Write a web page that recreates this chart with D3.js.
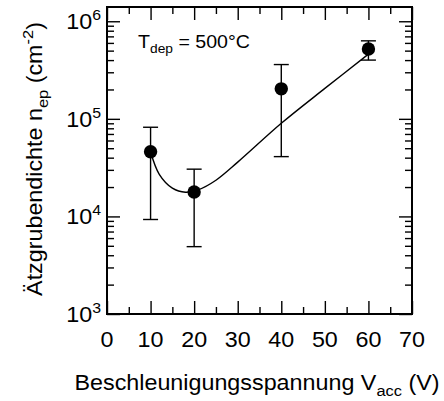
<!DOCTYPE html>
<html>
<head>
<meta charset="utf-8">
<script src="https://cdn.jsdelivr.net/npm/d3@7"></script>
<style>
  body { margin: 0; background: #fff; }
  text { font-family: "Liberation Sans", Arial, sans-serif; fill: #000; }
</style>
</head>
<body>
<svg id="chart" width="444" height="401"></svg>
<script>
// measured points (V_acc in V, etch pit density in cm^-2)
var voltage = [10, 20, 40, 60];
var density = [4.6e4, 1.78e4, 2.03e5, 5.2e5];
var errLow  = [9.3e3, 4.9e3, 4.1e4, 4.0e5];
var errHigh = [8.2e4, 3.05e4, 3.6e5, 6.3e5];

// guide line
var fitX = [10, 12, 15, 18, 21, 25, 30, 40, 50, 60];
var fitY = [4.6e4, 2.7e4, 1.95e4, 1.77e4, 1.88e4, 2.35e4, 3.6e4, 9.0e4, 2.05e5, 4.6e5];

var xMajor = [0, 10, 20, 30, 40, 50, 60, 70];
var xMinor = [5, 15, 25, 35, 45, 55, 65];
var yExp = [3, 4, 5, 6];

var svg = d3.select("#chart"),
    pLeft = 107, pRight = 412, pTop = 7, pBottom = 314,
    stretch = 1.06; // the original lettering is a bit wider than Liberation Sans

var x = d3.scaleLinear().domain([0, 70]).range([pLeft, pRight]);
var y = d3.scaleLog().domain([1e3, 1.4e6]).range([pBottom, pTop]);

var yMajor = yExp.map(function (e) { return Math.pow(10, e); });
var yMinor = [];
yMajor.forEach(function (d) {
    for (var k = 2; k <= 9; k++) {
        if (d * k <= 1.4e6) yMinor.push(d * k);
    }
});

function styleAxis(g) {
    g.select(".domain").remove();
    g.selectAll("line").attr("stroke", "#000").attr("stroke-width", 1.4);
    g.selectAll("text").remove();
}

// ticks, all pointing inward
svg.append("g").attr("transform", "translate(0," + pBottom + ")")
    .call(d3.axisBottom(x).tickValues(xMajor).tickSize(-13)).call(styleAxis);
svg.append("g").attr("transform", "translate(0," + pBottom + ")")
    .call(d3.axisBottom(x).tickValues(xMinor).tickSize(-7)).call(styleAxis);
svg.append("g").attr("transform", "translate(0," + pTop + ")")
    .call(d3.axisTop(x).tickValues(xMajor).tickSize(-13)).call(styleAxis);
svg.append("g").attr("transform", "translate(0," + pTop + ")")
    .call(d3.axisTop(x).tickValues(xMinor).tickSize(-7)).call(styleAxis);

svg.append("g").attr("transform", "translate(" + pLeft + ",0)")
    .call(d3.axisLeft(y).tickValues(yMajor).tickSize(-13)).call(styleAxis);
svg.append("g").attr("transform", "translate(" + pLeft + ",0)")
    .call(d3.axisLeft(y).tickValues(yMinor).tickSize(-7)).call(styleAxis);
svg.append("g").attr("transform", "translate(" + pRight + ",0)")
    .call(d3.axisRight(y).tickValues(yMajor).tickSize(-13)).call(styleAxis);
svg.append("g").attr("transform", "translate(" + pRight + ",0)")
    .call(d3.axisRight(y).tickValues(yMinor).tickSize(-7)).call(styleAxis);

// frame
svg.append("rect")
    .attr("x", pLeft).attr("y", pTop)
    .attr("width", pRight - pLeft).attr("height", pBottom - pTop)
    .attr("fill", "none").attr("stroke", "#000").attr("stroke-width", 2);

// tick labels
svg.append("g").selectAll("text").data(xMajor).enter().append("text")
    .attr("transform", function (d) { return "translate(" + x(d) + ",347) scale(" + stretch + ",1)"; })
    .attr("text-anchor", "middle")
    .style("font-size", "22px")
    .text(function (d) { return d; });

var yl = svg.append("g").selectAll("text").data(yExp).enter().append("text")
    .attr("transform", function (d) {
        return "translate(101," + (y(Math.pow(10, d)) + 8) + ") scale(" + stretch + ",1)";
    })
    .attr("text-anchor", "end")
    .style("font-size", "22px");
yl.append("tspan").text("10");
yl.append("tspan").attr("dy", -9).style("font-size", "15px").text(function (d) { return d; });

// fit curve
var line = d3.line()
    .x(function (d) { return x(d[0]); })
    .y(function (d) { return y(d[1]); })
    .curve(d3.curveCatmullRom.alpha(0.5));
svg.append("path")
    .datum(d3.zip(fitX, fitY))
    .attr("d", line)
    .attr("fill", "none").attr("stroke", "#000").attr("stroke-width", 1.4);

// error bars
var pts = d3.range(voltage.length);
var eb = svg.append("g").attr("stroke", "#000").attr("stroke-width", 1.4);
eb.selectAll(".v").data(pts).enter().append("line")
    .attr("x1", function (i) { return x(voltage[i]); })
    .attr("x2", function (i) { return x(voltage[i]); })
    .attr("y1", function (i) { return y(errLow[i]); })
    .attr("y2", function (i) { return y(errHigh[i]); });
[errLow, errHigh].forEach(function (arr) {
    eb.append("g").selectAll("line").data(pts).enter().append("line")
        .attr("x1", function (i) { return x(voltage[i]) - 7.5; })
        .attr("x2", function (i) { return x(voltage[i]) + 7.5; })
        .attr("y1", function (i) { return y(arr[i]); })
        .attr("y2", function (i) { return y(arr[i]); });
});

// points
svg.append("g").selectAll("circle").data(pts).enter().append("circle")
    .attr("cx", function (i) { return x(voltage[i]); })
    .attr("cy", function (i) { return y(density[i]); })
    .attr("r", 6.7)
    .attr("fill", "#000");

// annotation
var ann = svg.append("text")
    .attr("transform", "translate(138,48) scale(" + stretch + ",1)")
    .style("font-size", "18.5px");
ann.append("tspan").text("T");
ann.append("tspan").attr("dy", 5).style("font-size", "13px").text("dep");
ann.append("tspan").attr("dy", -5).text(" = 500°C");

// axis titles
var xt = svg.append("text")
    .attr("transform", "translate(257,390) scale(" + stretch + ",1)")
    .attr("text-anchor", "middle").style("font-size", "22px");
xt.append("tspan").text("Beschleunigungsspannung V");
xt.append("tspan").attr("dy", 6).style("font-size", "15.5px").text("acc");
xt.append("tspan").attr("dy", -6).text(" (V)");

var yt = svg.append("text")
    .attr("transform", "translate(42,159) rotate(-90) scale(" + stretch + ",1)")
    .attr("text-anchor", "middle").style("font-size", "22px");
yt.append("tspan").text("Ätzgrubendichte n");
yt.append("tspan").attr("dy", 6).style("font-size", "15.5px").text("ep");
yt.append("tspan").attr("dy", -6).text(" (cm");
yt.append("tspan").attr("dy", -9).style("font-size", "15.5px").text("-2");
yt.append("tspan").attr("dy", 9).text(")");
</script>
</body>
</html>
